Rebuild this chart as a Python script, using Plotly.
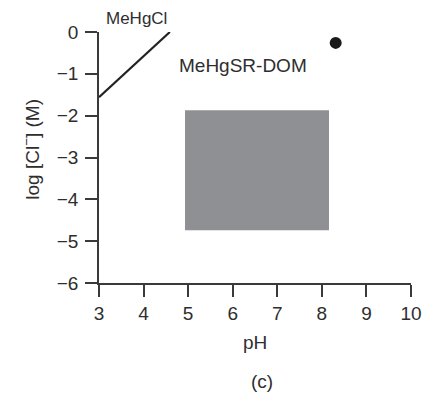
import plotly.graph_objects as go

# MeHgCl stability boundary (pH, log[Cl-])
line_ph = [3.0, 4.59]
line_logcl = [-1.56, 0.0]

# MeHgSR-DOM region (rectangle corners)
rect_ph = [4.93, 8.16, 8.16, 4.93, 4.93]
rect_logcl = [-1.87, -1.87, -4.74, -4.74, -1.87]

# Seawater point
pt_ph = [8.31]
pt_logcl = [-0.26]

x_ticks = [3, 4, 5, 6, 7, 8, 9, 10]
y_ticks = [0, -1, -2, -3, -4, -5, -6]

FONT = "Liberation Sans, Arial, sans-serif"
AX = "#3a3a3a"
TXT = "#2e2e2e"

fig = go.Figure()
fig.add_trace(go.Scatter(x=rect_ph, y=rect_logcl, mode="lines", fill="toself",
                         fillcolor="#8e9093", line=dict(width=0), hoverinfo="skip"))
fig.add_trace(go.Scatter(x=line_ph, y=line_logcl, mode="lines",
                         line=dict(color="#222222", width=2.2), cliponaxis=False))
fig.add_trace(go.Scatter(x=pt_ph, y=pt_logcl, mode="markers",
                         marker=dict(color="#1a1a1a", size=12), cliponaxis=False))

axis_common = dict(showline=True, linecolor=AX, linewidth=1.5, ticks="outside",
                   ticklen=12, tickwidth=1.5, tickcolor=AX, showgrid=False,
                   zeroline=False, automargin=False,
                   tickfont=dict(family=FONT, size=19, color=TXT))

fig.update_xaxes(range=[3, 10], tickvals=x_ticks, **axis_common)
fig.update_yaxes(range=[-6, 0], tickvals=y_ticks, ticklabelstandoff=3, **axis_common)


def px_x(p):
    return (p - 99) / 312


def px_y(p):
    return (283.3 - p) / 251


labels = [
    ("MeHgCl", px_x(104), px_y(19), "left", 0, 17),
    ("MeHgSR-DOM", px_x(177), px_y(66), "left", 0, 19),
    ("log [Cl<sup>−</sup>] (M)", px_x(31), px_y(150), "center", -90, 19),
    ("pH", px_x(255), px_y(343), "center", 0, 19),
    ("(c)", px_x(262), px_y(382), "center", 0, 19),
]
for txt, x, y, xa, ang, sz in labels:
    fig.add_annotation(x=x, y=y, xref="paper", yref="paper", text=txt, showarrow=False,
                       xanchor=xa, yanchor="middle", textangle=ang,
                       font=dict(family=FONT, size=sz, color=TXT))

fig.update_layout(width=424, height=395, margin=dict(l=99, r=13, t=32, b=112),
                  plot_bgcolor="white", paper_bgcolor="white", showlegend=False)

fig.write_html("out.html")
